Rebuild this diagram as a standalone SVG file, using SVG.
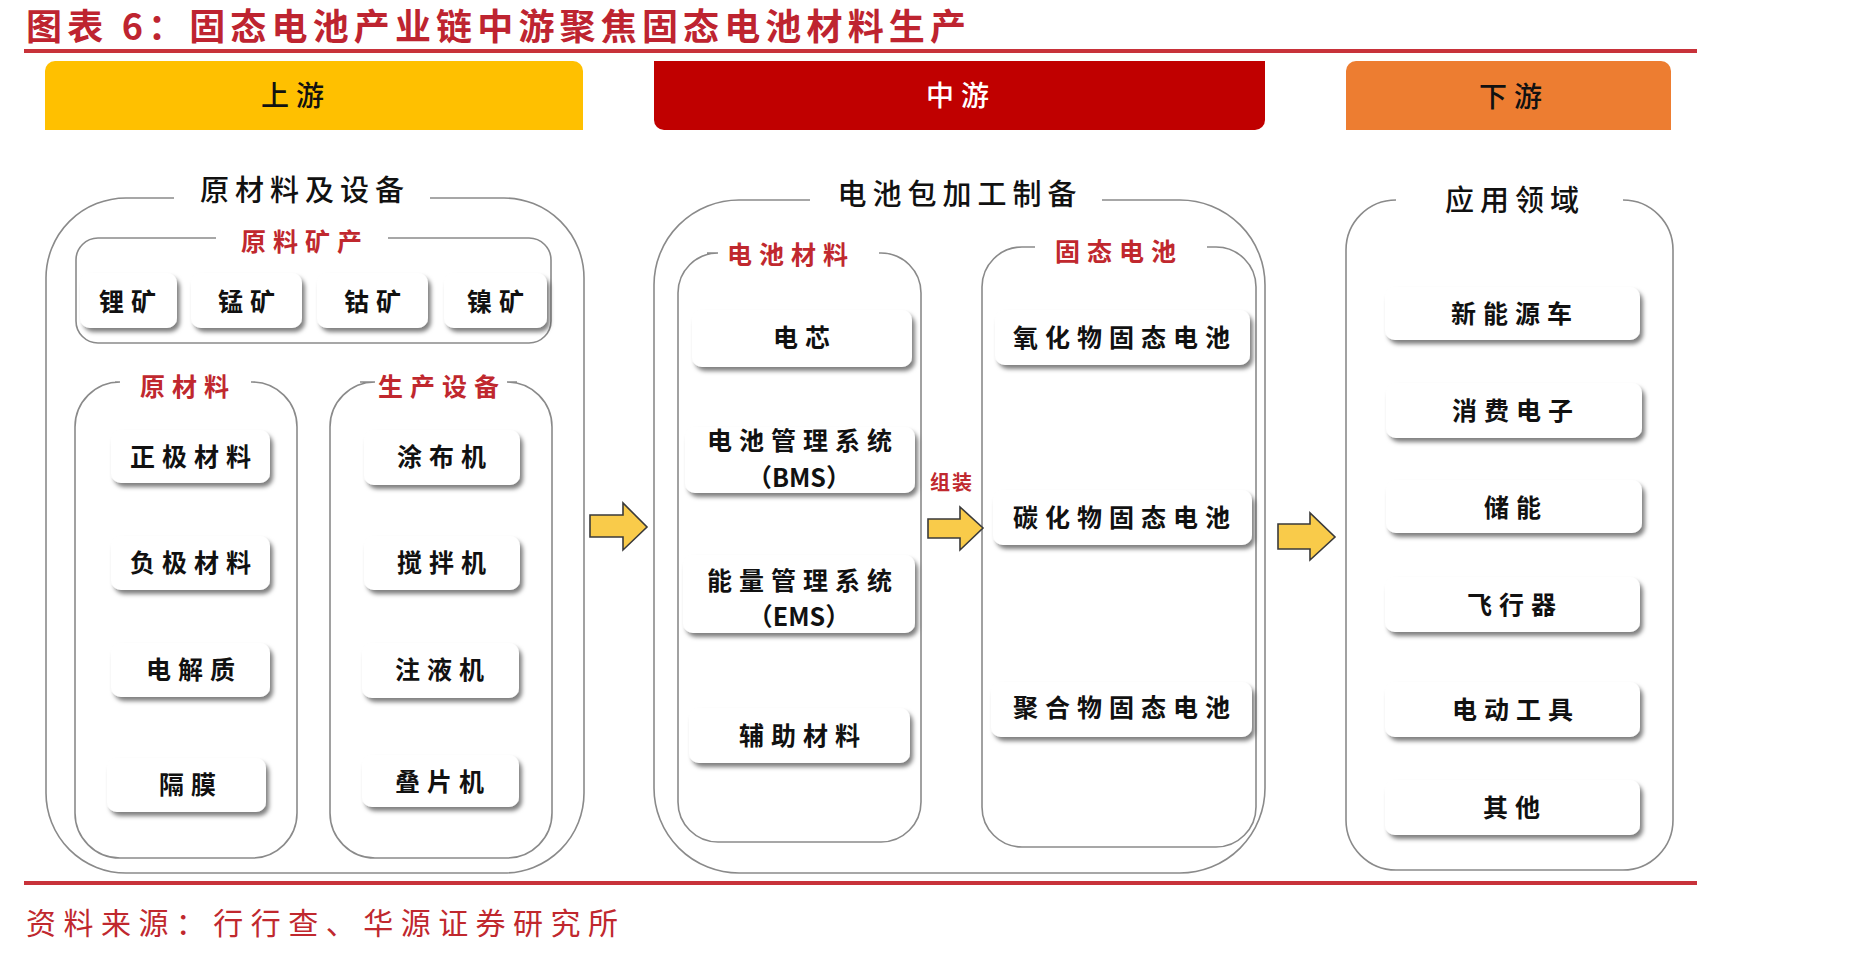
<svg xmlns="http://www.w3.org/2000/svg" width="1852" height="956" viewBox="0 0 1852 956">
<style>
text{font-family:"Noto Sans CJK SC","Noto Sans",sans-serif;}
.lbl{font-size:25px;letter-spacing:7px;fill:#111;text-anchor:middle;dominant-baseline:central;font-weight:bold;}
.abbr{font-size:25px;letter-spacing:0;fill:#111;text-anchor:middle;dominant-baseline:central;font-weight:bold;}
.sub{font-size:25px;letter-spacing:7px;fill:#C0282E;text-anchor:middle;dominant-baseline:central;font-weight:bold;}
.ct{font-size:29px;letter-spacing:6px;fill:#111;text-anchor:middle;dominant-baseline:central;font-weight:500;}
.hdr{font-size:28px;letter-spacing:7px;text-anchor:middle;dominant-baseline:central;font-weight:500;}
.box{fill:#fff;filter:url(#sh);}
.cont{fill:none;stroke:#8a8a8a;stroke-width:1.6;}
.arr{fill:#F9CB4A;stroke:#3a3a3a;stroke-width:1.6;stroke-linejoin:miter;}
.rl{stroke:#C8323A;stroke-width:4;}
</style>
<defs>
<filter id="sh" x="-10%" y="-20%" width="130%" height="160%">
<feDropShadow dx="3" dy="4" stdDeviation="2" flood-color="#000" flood-opacity="0.5"/>
</filter>
</defs>
<rect width="1852" height="956" fill="#fff"/>

<g id="title">
<text x="26" y="24" font-size="36" font-weight="bold" fill="#BE2430" dominant-baseline="central" textLength="940" lengthAdjust="spacing">图表 6：固态电池产业链中游聚焦固态电池材料生产</text>
<line class="rl" x1="24" y1="51" x2="1697" y2="51"/>
</g>

<g id="hdr-up">
<path d="M45,130 V71 A10,10 0 0 1 55,61 H573 A10,10 0 0 1 583,71 V130 Z" fill="#FFC000"/>
<text class="hdr" x="296" y="94" fill="#111">上游</text>
</g>
<g id="hdr-mid">
<path d="M654,61 H1265 V120 A10,10 0 0 1 1255,130 H664 A10,10 0 0 1 654,120 Z" fill="#C00000"/>
<text class="hdr" x="961" y="94" fill="#fff">中游</text>
</g>
<g id="hdr-down">
<path d="M1346,130 V71 A10,10 0 0 1 1356,61 H1661 A10,10 0 0 1 1671,71 V130 Z" fill="#ED7D31"/>
<text class="hdr" x="1514" y="95" fill="#111">下游</text>
</g>

<!-- Upstream -->
<g id="grp-raw-equip">
<path class="cont" d="M174,198 H126 A80,80 0 0 0 46,278 V793 A80,80 0 0 0 126,873 H504 A80,80 0 0 0 584,793 V278 A80,80 0 0 0 504,198 H430"/>
<text class="ct" x="305" y="188">原材料及设备</text>
</g>
<g id="grp-ore">
<path class="cont" d="M216,238 H98 A22,22 0 0 0 76,260 V321 A22,22 0 0 0 98,343 H529 A22,22 0 0 0 551,321 V260 A22,22 0 0 0 529,238 H388"/>
<text class="sub" x="305" y="240">原料矿产</text>
</g>
<g id="n-li"><rect class="box" x="80" y="273" width="97" height="55" rx="10"/><text class="lbl" x="131" y="300">锂矿</text></g>
<g id="n-mn"><rect class="box" x="191" y="273" width="111" height="55" rx="10"/><text class="lbl" x="250" y="300">锰矿</text></g>
<g id="n-co"><rect class="box" x="317" y="273" width="111" height="55" rx="10"/><text class="lbl" x="376" y="300">钴矿</text></g>
<g id="n-ni"><rect class="box" x="444" y="273" width="103" height="55" rx="10"/><text class="lbl" x="499" y="300">镍矿</text></g>

<g id="grp-raw">
<path class="cont" d="M115,382 H120 A45,45 0 0 0 75,427 V813 A45,45 0 0 0 120,858 H252 A45,45 0 0 0 297,813 V427 A45,45 0 0 0 252,382 H251"/>
<text class="sub" x="188" y="385">原材料</text>
</g>
<g id="n-cathode"><rect class="box" x="111" y="430" width="159" height="53" rx="10"/><text class="lbl" x="194" y="455">正极材料</text></g>
<g id="n-anode"><rect class="box" x="111" y="536" width="159" height="54" rx="10"/><text class="lbl" x="194" y="561">负极材料</text></g>
<g id="n-electrolyte"><rect class="box" x="111" y="643" width="159" height="54" rx="10"/><text class="lbl" x="194" y="668">电解质</text></g>
<g id="n-separator"><rect class="box" x="107" y="758" width="159" height="54" rx="10"/><text class="lbl" x="191" y="783">隔膜</text></g>

<g id="grp-equip">
<path class="cont" d="M360,382 H375 A45,45 0 0 0 330,427 V813 A45,45 0 0 0 375,858 H507 A45,45 0 0 0 552,813 V427 A45,45 0 0 0 507,382 H517"/>
<text class="sub" x="442" y="385">生产设备</text>
</g>
<g id="n-coater"><rect class="box" x="364" y="430" width="156" height="55" rx="10"/><text class="lbl" x="445" y="455">涂布机</text></g>
<g id="n-mixer"><rect class="box" x="364" y="536" width="156" height="54" rx="10"/><text class="lbl" x="445" y="561">搅拌机</text></g>
<g id="n-filler"><rect class="box" x="362" y="643" width="157" height="55" rx="10"/><text class="lbl" x="443" y="668">注液机</text></g>
<g id="n-stacker"><rect class="box" x="362" y="755" width="157" height="52" rx="10"/><text class="lbl" x="443" y="780">叠片机</text></g>

<!-- Midstream -->
<g id="grp-pack">
<path class="cont" d="M810,200 H739 A85,85 0 0 0 654,285 V788 A85,85 0 0 0 739,873 H1180 A85,85 0 0 0 1265,788 V285 A85,85 0 0 0 1180,200 H1102"/>
<text class="ct" x="960" y="192">电池包加工制备</text>
</g>
<g id="grp-batmat">
<path class="cont" d="M707,253 H718 A40,40 0 0 0 678,293 V802 A40,40 0 0 0 718,842 H881 A40,40 0 0 0 921,802 V293 A40,40 0 0 0 881,253 H879"/>
<text class="sub" x="791" y="253">电池材料</text>
</g>
<g id="n-cell"><rect class="box" x="692" y="310" width="220" height="57" rx="10"/><text class="lbl" x="805" y="336">电芯</text></g>
<g id="n-bms"><rect class="box" x="685" y="427" width="230" height="66" rx="10"/><text class="lbl" x="803" y="439">电池管理系统</text><text class="abbr" x="799" y="476">（BMS）</text></g>
<g id="n-ems"><rect class="box" x="683" y="555" width="232" height="78" rx="10"/><text class="lbl" x="803" y="579">能量管理系统</text><text class="abbr" x="799" y="615">（EMS）</text></g>
<g id="n-aux"><rect class="box" x="689" y="708" width="221" height="55" rx="10"/><text class="lbl" x="803" y="734">辅助材料</text></g>

<g id="grp-ssb">
<path class="cont" d="M1035,247 H1022 A40,40 0 0 0 982,287 V807 A40,40 0 0 0 1022,847 H1216 A40,40 0 0 0 1256,807 V287 A40,40 0 0 0 1216,247 H1207"/>
<text class="sub" x="1119" y="250">固态电池</text>
</g>
<g id="n-oxide"><rect class="box" x="995" y="310" width="255" height="55" rx="10"/><text class="lbl" x="1125" y="336">氧化物固态电池</text></g>
<g id="n-carbide"><rect class="box" x="993" y="490" width="259" height="55" rx="10"/><text class="lbl" x="1125" y="516">碳化物固态电池</text></g>
<g id="n-polymer"><rect class="box" x="991" y="682" width="261" height="55" rx="10"/><text class="lbl" x="1125" y="706">聚合物固态电池</text></g>

<!-- Downstream -->
<g id="grp-app">
<path class="cont" d="M1396,200 A50,50 0 0 0 1346,250 V820 A50,50 0 0 0 1396,870 H1623 A50,50 0 0 0 1673,820 V250 A50,50 0 0 0 1623,200"/>
<text class="ct" x="1515" y="198">应用领域</text>
</g>
<g id="n-nev"><rect class="box" x="1385" y="287" width="255" height="53" rx="10"/><text class="lbl" x="1515" y="312">新能源车</text></g>
<g id="n-ce"><rect class="box" x="1386" y="383" width="256" height="55" rx="10"/><text class="lbl" x="1516" y="409">消费电子</text></g>
<g id="n-ess"><rect class="box" x="1386" y="480" width="256" height="53" rx="10"/><text class="lbl" x="1516" y="506">储能</text></g>
<g id="n-aircraft"><rect class="box" x="1385" y="577" width="255" height="55" rx="10"/><text class="lbl" x="1515" y="603">飞行器</text></g>
<g id="n-tools"><rect class="box" x="1385" y="682" width="255" height="55" rx="10"/><text class="lbl" x="1516" y="708">电动工具</text></g>
<g id="n-other"><rect class="box" x="1385" y="780" width="255" height="55" rx="10"/><text class="lbl" x="1515" y="806">其他</text></g>

<g id="connectors">
<path class="arr" d="M590,515 H623 V503 L647,527 L623,550 V537 H590 Z"/>
<path class="arr" d="M928,519 H960 V507 L983,528 L960,550 V538 H928 Z"/>
<path class="arr" d="M1278,524 H1310 V513 L1335,537 L1310,560 V549 H1278 Z"/>
<text x="952" y="481" font-size="20" font-weight="bold" fill="#C0282E" text-anchor="middle" dominant-baseline="central" letter-spacing="2">组装</text>
</g>

<g id="footer">
<line class="rl" x1="24" y1="883" x2="1697" y2="883"/>
<text x="26" y="921" font-size="30" fill="#C0282E" dominant-baseline="central" textLength="592" lengthAdjust="spacing">资料来源：行行查、华源证券研究所</text>
</g>
</svg>
